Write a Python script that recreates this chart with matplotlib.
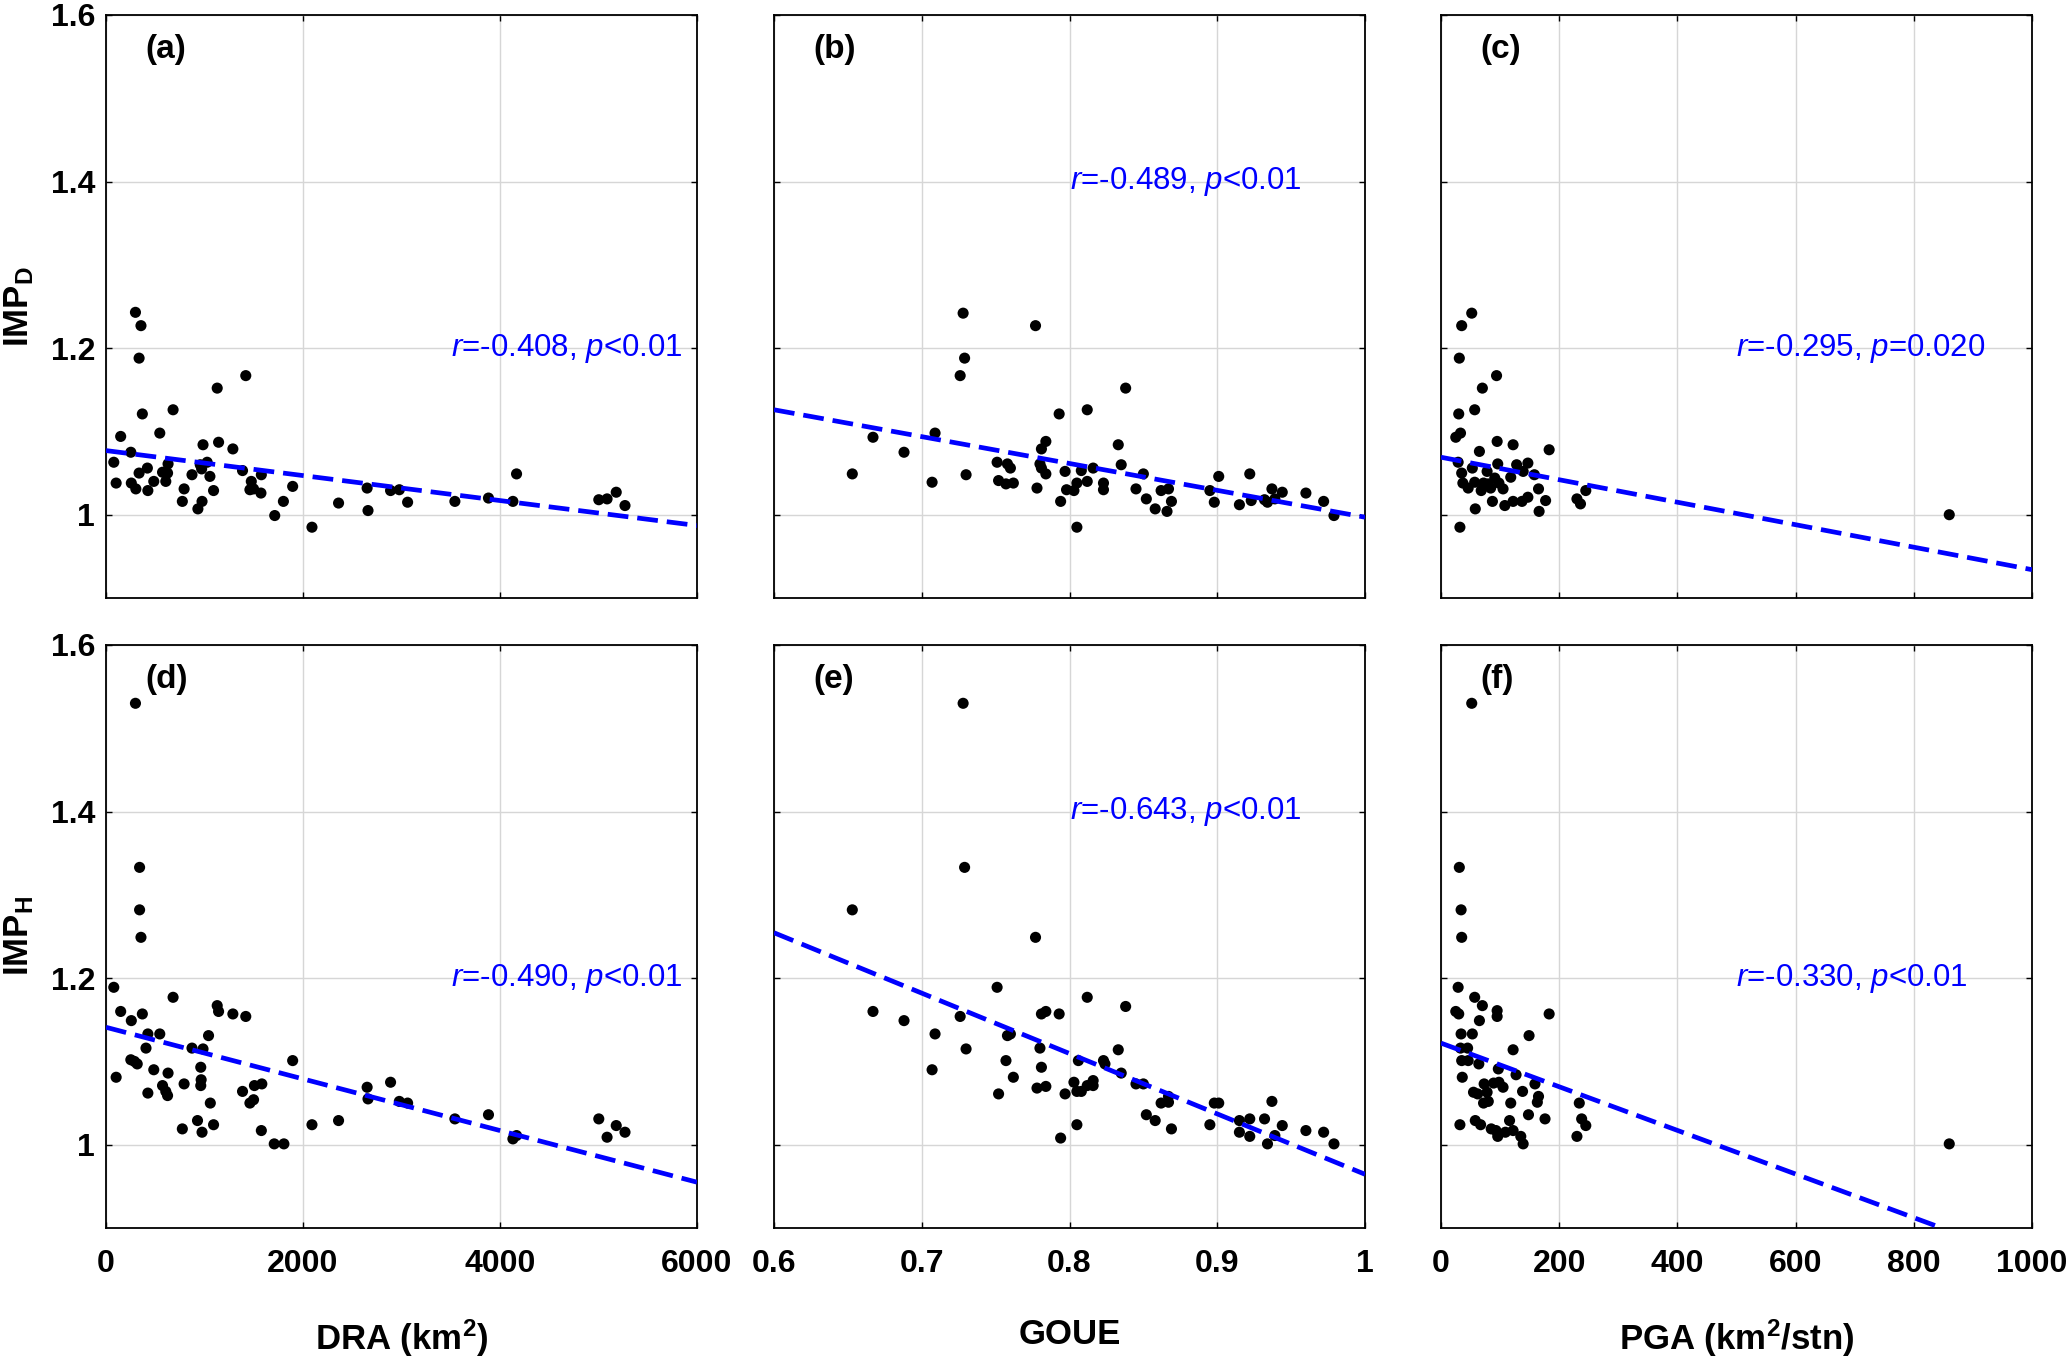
import matplotlib
matplotlib.use("Agg")
import matplotlib.pyplot as plt
import numpy as np

plt.rcParams['font.family'] = ['Liberation Sans', 'DejaVu Sans']
plt.rcParams['mathtext.fontset'] = 'custom'
plt.rcParams['mathtext.rm'] = 'Liberation Sans'
plt.rcParams['mathtext.it'] = 'Liberation Sans:italic'
plt.rcParams['mathtext.bf'] = 'Liberation Sans:bold'

# ---------------- data ----------------
# (a) DRA vs IMP_D
dra_a = [299, 355, 336, 369, 681, 1129, 1419, 149, 546, 252, 79, 103, 257, 303, 336, 420, 425, 485,
         574, 607, 630, 625, 793, 775, 873, 933, 975, 985, 957, 971, 1027, 1055, 1092, 1143, 1288,
         1386, 1475, 1461, 1498, 1577, 1573, 1713, 1801, 1895, 2091, 2361, 2651, 2660, 2889, 2978,
         3062, 3542, 3883, 4131, 4168, 5003, 5087, 5180, 5269]
impd_a = [1.243, 1.227, 1.188, 1.121, 1.126, 1.152, 1.167, 1.094, 1.098, 1.075, 1.063, 1.038, 1.038,
          1.031, 1.050, 1.056, 1.029, 1.040, 1.051, 1.040, 1.061, 1.050, 1.031, 1.016, 1.048, 1.007,
          1.016, 1.084, 1.060, 1.055, 1.063, 1.046, 1.029, 1.087, 1.079, 1.053, 1.040, 1.030, 1.031,
          1.048, 1.026, 0.999, 1.016, 1.034, 0.985, 1.014, 1.032, 1.005, 1.029, 1.030, 1.015, 1.016,
          1.020, 1.016, 1.049, 1.018, 1.019, 1.027, 1.011]

# (b) GOUE vs IMP_D
goue_b = [0.728, 0.777, 0.729, 0.726, 0.838, 0.793, 0.812, 0.667, 0.709, 0.688, 0.653, 0.707, 0.730,
          0.751, 0.758, 0.760, 0.752, 0.757, 0.762, 0.778, 0.784, 0.781, 0.781, 0.780, 0.784, 0.797,
          0.798, 0.794, 0.803, 0.805, 0.808, 0.812, 0.805, 0.816, 0.823, 0.823, 0.833, 0.835, 0.845,
          0.850, 0.852, 0.858, 0.862, 0.867, 0.869, 0.866, 0.895, 0.898, 0.901, 0.915, 0.922, 0.923,
          0.932, 0.934, 0.937, 0.939, 0.944, 0.960, 0.972, 0.979]
impd_b = [1.242, 1.227, 1.188, 1.167, 1.152, 1.121, 1.126, 1.093, 1.098, 1.075, 1.049, 1.039, 1.048,
          1.063, 1.061, 1.056, 1.041, 1.037, 1.038, 1.032, 1.088, 1.079, 1.056, 1.061, 1.049, 1.052,
          1.030, 1.016, 1.029, 1.038, 1.053, 1.040, 0.985, 1.056, 1.038, 1.030, 1.084, 1.060, 1.031,
          1.049, 1.019, 1.007, 1.029, 1.031, 1.016, 1.004, 1.029, 1.015, 1.046, 1.012, 1.049, 1.017,
          1.018, 1.015, 1.031, 1.019, 1.027, 1.026, 1.016, 0.999]

# (c) PGA vs IMP_D
pga_c = [52, 35, 31, 94, 70, 30, 57, 33, 25, 65, 95, 122, 183, 29, 35, 37, 46, 53, 57, 68, 78, 84,
         91, 96, 98, 105, 118, 128, 139, 147, 158, 165, 177, 166, 147, 137, 122, 108, 87, 58, 32,
         230, 236, 245, 860, 72, 80]
impd_c = [1.242, 1.227, 1.188, 1.167, 1.152, 1.121, 1.126, 1.098, 1.093, 1.076, 1.088, 1.084, 1.078,
          1.063, 1.050, 1.038, 1.032, 1.056, 1.039, 1.029, 1.052, 1.032, 1.044, 1.061, 1.038, 1.031,
          1.045, 1.060, 1.052, 1.062, 1.048, 1.031, 1.017, 1.004, 1.021, 1.016, 1.016, 1.011, 1.016,
          1.007, 0.985, 1.019, 1.013, 1.029, 1.000, 1.038, 1.037]

# (d) DRA vs IMP_H
dra_d = [299, 341, 341, 355, 79, 149, 257, 369, 681, 1129, 1143, 1288, 1419, 425, 546, 406, 1041, 873,
         985, 252, 289, 317, 103, 485, 630, 962, 574, 607, 625, 425, 793, 966, 962, 1059, 1092, 929,
         975, 775, 1386, 1461, 1498, 1507, 1582, 1577, 1708, 1806, 1895, 2091, 2361, 2651, 2660,
         2889, 2978, 3062, 3542, 3883, 4131, 4168, 5003, 5087, 5180, 5269]
imph_d = [1.530, 1.333, 1.282, 1.249, 1.189, 1.160, 1.149, 1.157, 1.177, 1.167, 1.160, 1.157, 1.154,
          1.133, 1.133, 1.116, 1.131, 1.116, 1.115, 1.102, 1.100, 1.097, 1.081, 1.090, 1.086, 1.093,
          1.071, 1.064, 1.059, 1.062, 1.073, 1.078, 1.071, 1.050, 1.024, 1.029, 1.015, 1.019, 1.064,
          1.050, 1.054, 1.071, 1.073, 1.017, 1.001, 1.001, 1.101, 1.024, 1.029, 1.069, 1.055, 1.075,
          1.052, 1.050, 1.031, 1.036, 1.007, 1.011, 1.031, 1.009, 1.023, 1.015]

# (e) GOUE vs IMP_H
goue_e = [0.728, 0.729, 0.653, 0.777, 0.751, 0.812, 0.838, 0.667, 0.688, 0.726, 0.781, 0.784, 0.793,
          0.709, 0.730, 0.758, 0.760, 0.780, 0.833, 0.707, 0.757, 0.762, 0.781, 0.806, 0.823, 0.824,
          0.835, 0.752, 0.778, 0.784, 0.797, 0.803, 0.805, 0.808, 0.812, 0.816, 0.816, 0.845, 0.850,
          0.862, 0.867, 0.867, 0.852, 0.858, 0.869, 0.805, 0.794, 0.898, 0.901, 0.895, 0.915, 0.915,
          0.922, 0.922, 0.932, 0.937, 0.939, 0.934, 0.944, 0.960, 0.972, 0.979]
imph_e = [1.530, 1.333, 1.282, 1.249, 1.189, 1.177, 1.166, 1.160, 1.149, 1.154, 1.157, 1.160, 1.157,
          1.133, 1.115, 1.131, 1.133, 1.116, 1.114, 1.090, 1.101, 1.081, 1.093, 1.101, 1.101, 1.097,
          1.086, 1.061, 1.068, 1.070, 1.061, 1.075, 1.064, 1.064, 1.071, 1.077, 1.071, 1.073, 1.073,
          1.050, 1.058, 1.051, 1.036, 1.029, 1.019, 1.024, 1.008, 1.050, 1.050, 1.024, 1.029, 1.015,
          1.031, 1.010, 1.031, 1.052, 1.011, 1.001, 1.023, 1.017, 1.015, 1.001]

# (f) PGA vs IMP_H
pga_f = [52, 31, 34, 35, 29, 57, 70, 95, 95, 25, 30, 183, 65, 34, 53, 149, 33, 45, 122, 35, 46, 64,
         97, 36, 127, 89, 73, 98, 105, 159, 55, 62, 78, 80, 72, 138, 165, 163, 118, 148, 176, 58, 67,
         32, 116, 85, 93, 96, 109, 122, 135, 139, 234, 238, 245, 230, 860]
imph_f = [1.530, 1.333, 1.282, 1.249, 1.189, 1.177, 1.167, 1.161, 1.154, 1.160, 1.157, 1.157, 1.149,
          1.133, 1.133, 1.131, 1.116, 1.116, 1.114, 1.101, 1.101, 1.097, 1.091, 1.081, 1.084, 1.074,
          1.073, 1.075, 1.069, 1.073, 1.063, 1.061, 1.063, 1.052, 1.050, 1.064, 1.058, 1.051, 1.050,
          1.036, 1.031, 1.029, 1.024, 1.024, 1.029, 1.019, 1.017, 1.010, 1.015, 1.017, 1.010, 1.001,
          1.050, 1.031, 1.023, 1.010, 1.001]

# regression lines (intercept at x=0, slope)
fit_intercept = [1.077, 1.3195, 1.069, 1.141, 1.6895, 1.122]
fit_slope = [-1.5e-5, -0.3225, -0.000135, -3.1e-5, -0.725, -0.000262]

# correlation annotations
stat_text = [r'$\it{r}$=-0.408, $\it{p}$<0.01', r'$\it{r}$=-0.489, $\it{p}$<0.01',
             r'$\it{r}$=-0.295, $\it{p}$=0.020', r'$\it{r}$=-0.490, $\it{p}$<0.01',
             r'$\it{r}$=-0.643, $\it{p}$<0.01', r'$\it{r}$=-0.330, $\it{p}$<0.01']
stat_pos = [(3500, 1.2), (0.8, 1.4), (500, 1.2), (3500, 1.2), (0.8, 1.4), (500, 1.2)]
panel_labels = ['(a)', '(b)', '(c)', '(d)', '(e)', '(f)']

x_labels = [r'DRA (km$^{\bf 2}$)', 'GOUE', r'PGA (km$^{\bf 2}$/stn)']
y_labels = [r'IMP$_{\bf D}$', r'IMP$_{\bf H}$']
x_limits = [(0, 6000), (0.6, 1.0), (0, 1000)]
x_ticks = [[0, 2000, 4000, 6000], [0.6, 0.7, 0.8, 0.9, 1.0], [0, 200, 400, 600, 800, 1000]]
x_ticklabels = [['0', '2000', '4000', '6000'], ['0.6', '0.7', '0.8', '0.9', '1'],
                ['0', '200', '400', '600', '800', '1000']]
y_ticks = [1.0, 1.2, 1.4, 1.6]
y_ticklabels = ['1', '1.2', '1.4', '1.6']

xs = [dra_a, goue_b, pga_c, dra_d, goue_e, pga_f]
ys = [impd_a, impd_b, impd_c, imph_d, imph_e, imph_f]

# ---------------- figure ----------------
W, H = 2066, 1363
fig = plt.figure(figsize=(W / 100, H / 100), dpi=100)

lefts = [106, 774, 1441]
tops = [15, 645]
aw, ah = 591, 583

for i in range(6):
    r, c = divmod(i, 3)
    ax = fig.add_axes([lefts[c] / W, 1 - (tops[r] + ah) / H, aw / W, ah / H])
    ax.set_xlim(*x_limits[c])
    ax.set_ylim(0.9, 1.6)
    ax.grid(True, color='#d6d6d6', linewidth=1.0)
    ax.set_axisbelow(True)
    ax.scatter(xs[i], ys[i], s=64, color='black', edgecolors='none', zorder=3)
    ax.axline((0, fit_intercept[i]), slope=fit_slope[i], color='#0000ff', linewidth=3.4,
              linestyle=(0, (4.4, 1.9)), zorder=4)
    ax.text(stat_pos[i][0], stat_pos[i][1], stat_text[i], color='#0000ff', fontsize=22.5,
            ha='left', va='center', zorder=5)
    ax.text(0.066, 0.94, panel_labels[i], transform=ax.transAxes, fontsize=24,
            fontweight='bold', ha='left', va='center', zorder=5)

    ax.set_xticks(x_ticks[c])
    ax.set_yticks(y_ticks)
    ax.tick_params(direction='in', length=4, width=1, top=True, right=True,
                   labelsize=23)
    ax.tick_params(axis='x', pad=15)
    ax.tick_params(axis='y', pad=8)
    for sp in ax.spines.values():
        sp.set_linewidth(1.3)

    if r == 1:
        ax.set_xticklabels(x_ticklabels[c], fontweight='bold')
        ax.set_xlabel(x_labels[c], fontsize=25, fontweight='bold', labelpad=28)
    else:
        ax.set_xticklabels([])
    if c == 0:
        ax.set_yticklabels(y_ticklabels, fontweight='bold')
        ax.set_ylabel(y_labels[r], fontsize=25, fontweight='bold')
        ax.yaxis.set_label_coords(-0.118, 0.5)
    else:
        ax.set_yticklabels([])

fig.savefig('out.png', dpi=100)
